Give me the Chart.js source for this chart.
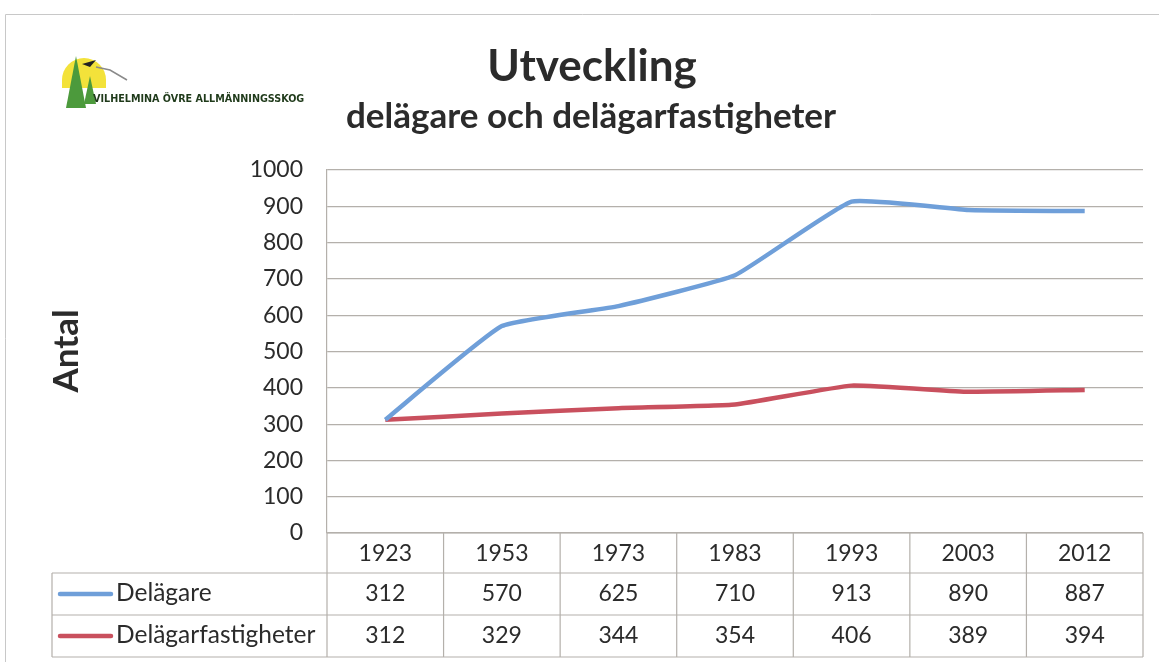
<!DOCTYPE html>
<html>
<head>
<meta charset="utf-8">
<script src="https://cdn.jsdelivr.net/npm/chart.js@4.4.0/dist/chart.umd.min.js"></script>
<style>
  html, body { margin: 0; padding: 0; background: #fff; }
  #wrap { position: relative; width: 1159px; height: 663px; }
</style>
</head>
<body>
<div id="wrap"><canvas id="utvChart" width="1159" height="663"></canvas></div>
<script>
// Data
const years = ['1923', '1953', '1973', '1983', '1993', '2003', '2012'];
const delagare = [312, 570, 625, 710, 913, 890, 887];
const delagarfastigheter = [312, 329, 344, 354, 406, 389, 394];
const seriesNames = ['Delägare', 'Delägarfastigheter'];
const yTicks = [0, 100, 200, 300, 400, 500, 600, 700, 800, 900, 1000];

const FONT = 'Lato, "Open Sans", sans-serif';
const TEXT = '#2b2b2b';
const GRID = '#b4b0ab';
const BLUE = '#6f9fd9';
const RED = '#c9505e';

// Draws titles, the logo, the y label and the data table under the plot
const decorPlugin = {
    id: 'decor',
    afterDraw: function(chart) {
        const ctx = chart.ctx;
        const area = chart.chartArea;
        const x = chart.scales.x;
        ctx.save();

        // outer frame
        ctx.strokeStyle = '#c8c8c8';
        ctx.lineWidth = 1;
        ctx.beginPath();
        ctx.moveTo(5.5, 662);
        ctx.lineTo(5.5, 14.5);
        ctx.lineTo(1159, 14.5);
        ctx.stroke();

        // titles
        ctx.fillStyle = TEXT;
        ctx.textAlign = 'center';
        ctx.textBaseline = 'alphabetic';
        ctx.font = 'bold 44px ' + FONT;
        ctx.fillText('Utveckling', 592, 81);
        ctx.font = 'bold 35px ' + FONT;
        ctx.fillText('delägare och delägarfastigheter', 591, 128);

        // y axis title
        ctx.save();
        ctx.translate(67, 351);
        ctx.rotate(-Math.PI / 2);
        ctx.font = 'bold 35px ' + FONT;
        ctx.textBaseline = 'middle';
        ctx.fillText('Antal', 0, 0);
        ctx.restore();

        // logo
        ctx.fillStyle = '#f3e23a';
        ctx.beginPath();
        ctx.arc(84, 80, 22, Math.PI, 2 * Math.PI);
        ctx.lineTo(106, 88);
        ctx.lineTo(62, 88);
        ctx.closePath();
        ctx.fill();
        ctx.strokeStyle = '#8a8a8a';
        ctx.lineWidth = 1.5;
        ctx.beginPath();
        ctx.moveTo(96, 67);
        ctx.lineTo(110, 70);
        ctx.lineTo(127, 80);
        ctx.stroke();
        ctx.fillStyle = '#222';
        ctx.beginPath();
        ctx.moveTo(82, 64); ctx.lineTo(96, 60); ctx.lineTo(90, 67);
        ctx.closePath();
        ctx.fill();
        ctx.fillStyle = '#4c9a3c';
        [[76, 56, 108, 10], [90, 76, 104, 6]].forEach(t => {
            ctx.beginPath();
            ctx.moveTo(t[0], t[1]);
            ctx.lineTo(t[0] + t[3], t[2]);
            ctx.lineTo(t[0] - t[3], t[2]);
            ctx.closePath();
            ctx.fill();
        });
        ctx.fillStyle = '#1f3a1a';
        ctx.font = 'bold 10.7px "DejaVu Sans Condensed", sans-serif';
        ctx.textAlign = 'left';
        ctx.textBaseline = 'middle';
        ctx.fillText('VILHELMINA ÖVRE ALLMÄNNINGSSKOG', 93, 99);

        // data table
        const step = x.getPixelForValue(1) - x.getPixelForValue(0);
        const top = area.bottom;
        const rowH = [40, 42, 42];
        const rowTop = [top, top + rowH[0], top + rowH[0] + rowH[1]];
        const bottom = rowTop[2] + rowH[2];
        const tableLeft = 52;

        ctx.strokeStyle = GRID;
        ctx.lineWidth = 1.2;
        ctx.beginPath();
        // horizontal lines
        ctx.moveTo(area.left, top);
        ctx.lineTo(area.right, top);
        ctx.moveTo(tableLeft, rowTop[1]);
        ctx.lineTo(area.right, rowTop[1]);
        ctx.moveTo(tableLeft, rowTop[2]);
        ctx.lineTo(area.right, rowTop[2]);
        ctx.moveTo(tableLeft, bottom);
        ctx.lineTo(area.right, bottom);
        // vertical lines
        ctx.moveTo(tableLeft, rowTop[1]);
        ctx.lineTo(tableLeft, bottom);
        for (let i = 0; i <= years.length; i++) {
            const px = x.getPixelForValue(i) - step / 2;
            ctx.moveTo(px, top);
            ctx.lineTo(px, bottom);
        }
        ctx.stroke();

        ctx.fillStyle = TEXT;
        ctx.font = '23px ' + FONT;
        ctx.textAlign = 'center';
        ctx.textBaseline = 'middle';
        years.forEach((yr, i) => {
            ctx.fillText(yr, x.getPixelForValue(i), rowTop[0] + rowH[0] / 2 + 1);
        });
        [delagare, delagarfastigheter].forEach((vals, r) => {
            const cy = rowTop[r + 1] + rowH[r + 1] / 2;
            vals.forEach((v, i) => {
                ctx.fillText(String(v), x.getPixelForValue(i), cy);
            });
        });

        // legend keys inside the table
        ctx.font = '24.5px ' + FONT;
        [BLUE, RED].forEach((col, r) => {
            const cy = rowTop[r + 1] + rowH[r + 1] / 2;
            ctx.strokeStyle = col;
            ctx.lineWidth = 4.5;
            ctx.lineCap = 'round';
            ctx.beginPath();
            ctx.moveTo(60, cy);
            ctx.lineTo(111, cy);
            ctx.stroke();
            ctx.fillStyle = TEXT;
            ctx.textAlign = 'left';
            ctx.fillText(seriesNames[r], 116, cy - 1);
        });

        ctx.restore();
    }
};

const ctx = document.getElementById('utvChart').getContext('2d');
const chart = new Chart(ctx, {
    type: 'line',
    data: {
        labels: years,
        datasets: [
            {
                label: seriesNames[0],
                data: delagare,
                borderColor: BLUE,
                borderWidth: 4.5,
                pointRadius: 0,
                tension: 0.12,
                fill: false
            },
            {
                label: seriesNames[1],
                data: delagarfastigheter,
                borderColor: RED,
                borderWidth: 4.5,
                pointRadius: 0,
                tension: 0.12,
                fill: false
            }
        ]
    },
    options: {
        responsive: false,
        animation: false,
        layout: {
            padding: { left: 247, right: 16, top: 170, bottom: 130 }
        },
        scales: {
            x: {
                display: false,
                offset: true
            },
            y: {
                min: 0,
                max: 1000,
                afterFit: function(scale) { scale.width = 80; },
                afterBuildTicks: function(scale) {
                    scale.ticks = yTicks.map(v => ({ value: v }));
                },
                ticks: {
                    color: TEXT,
                    font: { family: FONT, size: 23 },
                    padding: 24,
                    callback: function(value) { return String(value); }
                },
                grid: {
                    color: GRID,
                    lineWidth: 1.2,
                    drawTicks: false
                },
                border: {
                    display: true,
                    color: GRID,
                    width: 1.2
                }
            }
        },
        plugins: {
            legend: { display: false },
            tooltip: { enabled: false }
        }
    },
    plugins: [decorPlugin]
});
</script>
</body>
</html>
